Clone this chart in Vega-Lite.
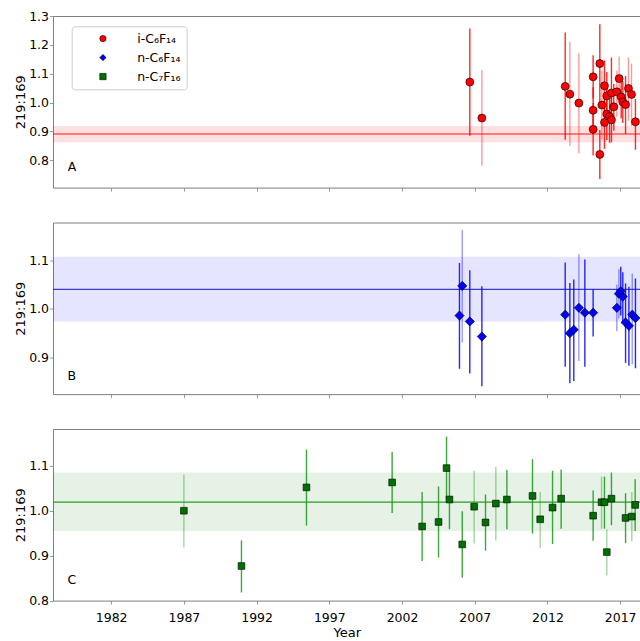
{
  "$schema": "https://vega.github.io/schema/vega-lite/v6.json",
  "padding": {"left": 14, "top": 10, "right": 0, "bottom": 0},
  "background": "white",
  "bounds": "flush",
  "spacing": 34.5,
  "config": {
    "font": "DejaVu Sans",
    "view": {"stroke": null},
    "axis": {
      "labelFont": "DejaVu Sans", "labelFontSize": 12.5, "labelColor": "black",
      "titleFont": "DejaVu Sans", "titleFontSize": 13, "titleFontWeight": "normal", "titleColor": "black",
      "domainColor": "#808080", "tickColor": "#808080", "tickSize": 3.5, "tickWidth": 0.8,
      "grid": false, "labelFlush": false, "labelOverlap": false, "domainWidth": 1
    },
    "axisY": {"labelPadding": 1, "titleX": -28.5, "titleY": 85.8, "titleBaseline": "alphabetic", "titleAngle": -90, "titleAlign": "center", "format": ".1f"}
  },
  "datasets": {
    "obs": [
      {"panel": "A", "compound": "i-C₆F₁₄", "year": 2006.66, "value": 1.071, "lo": 0.885, "hi": 1.257, "src": "a"},
      {"panel": "A", "compound": "i-C₆F₁₄", "year": 2007.49, "value": 0.946, "lo": 0.781, "hi": 1.112, "src": "b"},
      {"panel": "A", "compound": "i-C₆F₁₄", "year": 2013.22, "value": 1.056, "lo": 0.871, "hi": 1.243, "src": "a"},
      {"panel": "A", "compound": "i-C₆F₁₄", "year": 2013.54, "value": 1.029, "lo": 0.850, "hi": 1.210, "src": "b"},
      {"panel": "A", "compound": "i-C₆F₁₄", "year": 2014.16, "value": 0.998, "lo": 0.824, "hi": 1.171, "src": "b"},
      {"panel": "A", "compound": "i-C₆F₁₄", "year": 2015.14, "value": 1.089, "lo": 1.014, "hi": 1.164, "src": "a"},
      {"panel": "A", "compound": "i-C₆F₁₄", "year": 2015.14, "value": 0.973, "lo": 0.893, "hi": 1.053, "src": "a"},
      {"panel": "A", "compound": "i-C₆F₁₄", "year": 2015.14, "value": 0.907, "lo": 0.816, "hi": 0.998, "src": "a"},
      {"panel": "A", "compound": "i-C₆F₁₄", "year": 2015.60, "value": 1.135, "lo": 1.000, "hi": 1.271, "src": "a"},
      {"panel": "A", "compound": "i-C₆F₁₄", "year": 2015.60, "value": 0.820, "lo": 0.735, "hi": 0.905, "src": "a"},
      {"panel": "A", "compound": "i-C₆F₁₄", "year": 2015.74, "value": 0.991, "lo": 0.873, "hi": 1.110, "src": "b"},
      {"panel": "A", "compound": "i-C₆F₁₄", "year": 2015.92, "value": 1.058, "lo": 0.970, "hi": 1.146, "src": "a"},
      {"panel": "A", "compound": "i-C₆F₁₄", "year": 2015.92, "value": 0.931, "lo": 0.839, "hi": 1.023, "src": "a"},
      {"panel": "A", "compound": "i-C₆F₁₄", "year": 2016.08, "value": 1.023, "lo": 0.940, "hi": 1.106, "src": "a"},
      {"panel": "A", "compound": "i-C₆F₁₄", "year": 2016.08, "value": 0.960, "lo": 0.870, "hi": 1.050, "src": "a"},
      {"panel": "A", "compound": "i-C₆F₁₄", "year": 2016.27, "value": 0.951, "lo": 0.860, "hi": 1.042, "src": "a"},
      {"panel": "A", "compound": "i-C₆F₁₄", "year": 2016.40, "value": 1.033, "lo": 0.940, "hi": 1.156, "src": "a"},
      {"panel": "A", "compound": "i-C₆F₁₄", "year": 2016.40, "value": 0.940, "lo": 0.862, "hi": 1.018, "src": "a"},
      {"panel": "A", "compound": "i-C₆F₁₄", "year": 2016.56, "value": 0.985, "lo": 0.902, "hi": 1.064, "src": "a"},
      {"panel": "A", "compound": "i-C₆F₁₄", "year": 2016.77, "value": 1.037, "lo": 0.950, "hi": 1.110, "src": "b"},
      {"panel": "A", "compound": "i-C₆F₁₄", "year": 2016.93, "value": 1.083, "lo": 1.000, "hi": 1.160, "src": "b"},
      {"panel": "A", "compound": "i-C₆F₁₄", "year": 2017.07, "value": 1.019, "lo": 0.945, "hi": 1.093, "src": "a"},
      {"panel": "A", "compound": "i-C₆F₁₄", "year": 2017.18, "value": 1.002, "lo": 0.929, "hi": 1.075, "src": "a"},
      {"panel": "A", "compound": "i-C₆F₁₄", "year": 2017.37, "value": 0.993, "lo": 0.891, "hi": 1.092, "src": "a"},
      {"panel": "A", "compound": "i-C₆F₁₄", "year": 2017.57, "value": 1.049, "lo": 0.937, "hi": 1.156, "src": "b"},
      {"panel": "A", "compound": "i-C₆F₁₄", "year": 2017.78, "value": 1.028, "lo": 0.919, "hi": 1.135, "src": "b"},
      {"panel": "A", "compound": "i-C₆F₁₄", "year": 2018.05, "value": 0.933, "lo": 0.836, "hi": 1.012, "src": "a"},

      {"panel": "B", "compound": "n-C₆F₁₄", "year": 2005.95, "value": 0.986, "lo": 0.877, "hi": 1.094, "src": "a"},
      {"panel": "B", "compound": "n-C₆F₁₄", "year": 2006.14, "value": 1.047, "lo": 0.931, "hi": 1.162, "src": "b"},
      {"panel": "B", "compound": "n-C₆F₁₄", "year": 2006.66, "value": 0.974, "lo": 0.867, "hi": 1.079, "src": "a"},
      {"panel": "B", "compound": "n-C₆F₁₄", "year": 2007.49, "value": 0.943, "lo": 0.841, "hi": 1.046, "src": "a"},
      {"panel": "B", "compound": "n-C₆F₁₄", "year": 2013.22, "value": 0.988, "lo": 0.881, "hi": 1.095, "src": "a"},
      {"panel": "B", "compound": "n-C₆F₁₄", "year": 2013.54, "value": 0.950, "lo": 0.847, "hi": 1.053, "src": "a"},
      {"panel": "B", "compound": "n-C₆F₁₄", "year": 2013.81, "value": 0.957, "lo": 0.852, "hi": 1.060, "src": "a"},
      {"panel": "B", "compound": "n-C₆F₁₄", "year": 2014.16, "value": 1.002, "lo": 0.893, "hi": 1.112, "src": "b"},
      {"panel": "B", "compound": "n-C₆F₁₄", "year": 2014.57, "value": 0.992, "lo": 0.881, "hi": 1.101, "src": "a"},
      {"panel": "B", "compound": "n-C₆F₁₄", "year": 2015.14, "value": 0.992, "lo": 0.943, "hi": 1.040, "src": "a"},
      {"panel": "B", "compound": "n-C₆F₁₄", "year": 2016.77, "value": 1.002, "lo": 0.954, "hi": 1.050, "src": "b"},
      {"panel": "B", "compound": "n-C₆F₁₄", "year": 2016.91, "value": 1.031, "lo": 0.980, "hi": 1.081, "src": "b"},
      {"panel": "B", "compound": "n-C₆F₁₄", "year": 2017.04, "value": 1.036, "lo": 0.986, "hi": 1.086, "src": "a"},
      {"panel": "B", "compound": "n-C₆F₁₄", "year": 2017.18, "value": 1.025, "lo": 0.975, "hi": 1.075, "src": "a"},
      {"panel": "B", "compound": "n-C₆F₁₄", "year": 2017.37, "value": 0.972, "lo": 0.889, "hi": 1.052, "src": "a"},
      {"panel": "B", "compound": "n-C₆F₁₄", "year": 2017.60, "value": 0.965, "lo": 0.883, "hi": 1.045, "src": "a"},
      {"panel": "B", "compound": "n-C₆F₁₄", "year": 2017.83, "value": 0.988, "lo": 0.886, "hi": 1.072, "src": "b"},
      {"panel": "B", "compound": "n-C₆F₁₄", "year": 2018.05, "value": 0.981, "lo": 0.878, "hi": 1.062, "src": "a"},

      {"panel": "C", "compound": "n-C₇F₁₆", "year": 1987.00, "value": 1.000, "lo": 0.918, "hi": 1.080, "src": "b"},
      {"panel": "C", "compound": "n-C₇F₁₆", "year": 1990.96, "value": 0.877, "lo": 0.818, "hi": 0.934, "src": "a"},
      {"panel": "C", "compound": "n-C₇F₁₆", "year": 1995.43, "value": 1.052, "lo": 0.967, "hi": 1.136, "src": "a"},
      {"panel": "C", "compound": "n-C₇F₁₆", "year": 2001.32, "value": 1.063, "lo": 0.995, "hi": 1.131, "src": "a"},
      {"panel": "C", "compound": "n-C₇F₁₆", "year": 2003.38, "value": 0.965, "lo": 0.888, "hi": 1.042, "src": "a"},
      {"panel": "C", "compound": "n-C₇F₁₆", "year": 2004.51, "value": 0.975, "lo": 0.896, "hi": 1.054, "src": "a"},
      {"panel": "C", "compound": "n-C₇F₁₆", "year": 2005.06, "value": 1.095, "lo": 1.025, "hi": 1.165, "src": "a"},
      {"panel": "C", "compound": "n-C₇F₁₆", "year": 2005.26, "value": 1.025, "lo": 0.959, "hi": 1.089, "src": "a"},
      {"panel": "C", "compound": "n-C₇F₁₆", "year": 2006.14, "value": 0.925, "lo": 0.851, "hi": 0.999, "src": "a"},
      {"panel": "C", "compound": "n-C₇F₁₆", "year": 2006.96, "value": 1.009, "lo": 0.927, "hi": 1.089, "src": "b"},
      {"panel": "C", "compound": "n-C₇F₁₆", "year": 2007.74, "value": 0.974, "lo": 0.911, "hi": 1.036, "src": "a"},
      {"panel": "C", "compound": "n-C₇F₁₆", "year": 2008.45, "value": 1.016, "lo": 0.934, "hi": 1.098, "src": "b"},
      {"panel": "C", "compound": "n-C₇F₁₆", "year": 2009.21, "value": 1.025, "lo": 0.959, "hi": 1.091, "src": "a"},
      {"panel": "C", "compound": "n-C₇F₁₆", "year": 2010.97, "value": 1.033, "lo": 0.949, "hi": 1.115, "src": "a"},
      {"panel": "C", "compound": "n-C₇F₁₆", "year": 2011.50, "value": 0.981, "lo": 0.917, "hi": 1.042, "src": "b"},
      {"panel": "C", "compound": "n-C₇F₁₆", "year": 2012.35, "value": 1.007, "lo": 0.926, "hi": 1.089, "src": "a"},
      {"panel": "C", "compound": "n-C₇F₁₆", "year": 2012.94, "value": 1.027, "lo": 0.960, "hi": 1.092, "src": "a"},
      {"panel": "C", "compound": "n-C₇F₁₆", "year": 2015.14, "value": 0.989, "lo": 0.933, "hi": 1.045, "src": "a"},
      {"panel": "C", "compound": "n-C₇F₁₆", "year": 2015.72, "value": 1.019, "lo": 0.960, "hi": 1.076, "src": "b"},
      {"panel": "C", "compound": "n-C₇F₁₆", "year": 2015.92, "value": 1.019, "lo": 0.960, "hi": 1.076, "src": "a"},
      {"panel": "C", "compound": "n-C₇F₁₆", "year": 2016.08, "value": 0.908, "lo": 0.856, "hi": 0.959, "src": "b"},
      {"panel": "C", "compound": "n-C₇F₁₆", "year": 2016.40, "value": 1.027, "lo": 0.968, "hi": 1.085, "src": "a"},
      {"panel": "C", "compound": "n-C₇F₁₆", "year": 2017.37, "value": 0.984, "lo": 0.928, "hi": 1.039, "src": "a"},
      {"panel": "C", "compound": "n-C₇F₁₆", "year": 2017.80, "value": 0.987, "lo": 0.932, "hi": 1.042, "src": "b"},
      {"panel": "C", "compound": "n-C₇F₁₆", "year": 2018.03, "value": 1.013, "lo": 0.955, "hi": 1.070, "src": "a"}
    ],
    "bands": [
      {"panel": "A", "mean": 0.891, "lo": 0.862, "hi": 0.919},
      {"panel": "B", "mean": 1.040, "lo": 0.974, "hi": 1.107},
      {"panel": "C", "mean": 1.019, "lo": 0.955, "hi": 1.085}
    ],
    "letters": [
      {"panel": "A", "year": 1979.3, "value": 0.775, "label": "A"},
      {"panel": "B", "year": 1979.3, "value": 0.862, "label": "B"},
      {"panel": "C", "year": 1979.3, "value": 0.845, "label": "C"}
    ]
  },
  "resolve": {"legend": {"color": "independent", "shape": "independent"}},
  "vconcat": [
    {
      "width": 587.7, "height": 171.6,
      "resolve": {"axis": {"x": "independent"}},
      "layer": [
        {"data": {"name": "bands"}, "transform": [{"filter": "datum.panel == 'A'"}],
         "mark": {"type": "rect", "color": "#ff0000", "opacity": 0.12},
         "encoding": {"y": {"field": "lo", "type": "quantitative", "scale": {"domain": [0.705, 1.3], "nice": false, "zero": false}, "axis": {"title": "219:169", "values": [0.8, 0.9, 1.0, 1.1, 1.2, 1.3]}}, "y2": {"field": "hi"}}},
        {"data": {"name": "bands"}, "transform": [{"filter": "datum.panel == 'A'"}],
         "mark": {"type": "rule", "color": "#ff0000", "opacity": 0.45, "strokeWidth": 2},
         "encoding": {"y": {"field": "mean", "type": "quantitative", "scale": {"domain": [0.705, 1.3], "nice": false, "zero": false}, "axis": {"title": "219:169", "values": [0.8, 0.9, 1.0, 1.1, 1.2, 1.3]}}}},
        {"data": {"name": "obs"}, "transform": [{"filter": "datum.panel == 'A'"}],
         "mark": {"type": "rule", "color": "#ff0000", "strokeWidth": 1.4},
         "encoding": {
           "x": {"field": "year", "type": "quantitative", "scale": {"domain": [1978, 2018.41], "nice": false, "zero": false}, "axis": {"orient": "top", "labels": false, "ticks": false, "title": null}},
           "y": {"field": "lo", "type": "quantitative", "scale": {"domain": [0.705, 1.3], "nice": false, "zero": false}, "axis": {"title": "219:169", "values": [0.8, 0.9, 1.0, 1.1, 1.2, 1.3]}},
           "y2": {"field": "hi"},
           "opacity": {"field": "src", "type": "nominal", "scale": {"domain": ["a", "b"], "range": [0.85, 0.4]}, "legend": null}
         }},
        {"data": {"name": "obs"}, "transform": [{"filter": "datum.panel == 'A'"}],
         "mark": {"type": "point", "filled": true, "opacity": 1, "stroke": "black", "strokeWidth": 0.6, "size": 64},
         "encoding": {
           "x": {"field": "year", "type": "quantitative", "scale": {"domain": [1978, 2018.41], "nice": false, "zero": false}, "axis": {"orient": "bottom", "values": [1982, 1987, 1992, 1997, 2002, 2007, 2012, 2017], "labels": false, "title": null}},
           "y": {"field": "value", "type": "quantitative", "scale": {"domain": [0.705, 1.3], "nice": false, "zero": false}, "axis": {"title": "219:169", "values": [0.8, 0.9, 1.0, 1.1, 1.2, 1.3]}},
           "color": {"field": "compound", "type": "nominal", "scale": {"domain": ["i-C₆F₁₄", "n-C₆F₁₄", "n-C₇F₁₆"], "range": ["#ff0000", "#0000ff", "#007000"]},
             "legend": {"title": null, "orient": "none", "legendX": 18.7, "legendY": 10.3, "padding": 6, "strokeColor": "#cccccc", "fillColor": "white", "cornerRadius": 3, "labelFont": "DejaVu Sans", "labelFontSize": 12.5, "labelColor": "black", "symbolSize": 40, "symbolStrokeColor": "black", "symbolStrokeWidth": 0.6, "rowPadding": 6, "labelOffset": 28, "symbolOffset": 19}},
           "shape": {"field": "compound", "type": "nominal", "scale": {"domain": ["i-C₆F₁₄", "n-C₆F₁₄", "n-C₇F₁₆"], "range": ["circle", "diamond", "square"]},
             "legend": {"title": null, "orient": "none", "legendX": 18.7, "legendY": 10.3, "padding": 6, "strokeColor": "#cccccc", "fillColor": "white", "cornerRadius": 3, "labelFont": "DejaVu Sans", "labelFontSize": 12.5, "labelColor": "black", "symbolSize": 40, "symbolStrokeColor": "black", "symbolStrokeWidth": 0.6, "rowPadding": 6, "labelOffset": 28, "symbolOffset": 19}}
         }},
        {"data": {"name": "letters"}, "transform": [{"filter": "datum.panel == 'A'"}],
         "mark": {"type": "text", "font": "DejaVu Sans", "fontSize": 12.5, "align": "center", "baseline": "middle", "color": "black"},
         "encoding": {
           "x": {"field": "year", "type": "quantitative", "scale": {"domain": [1978, 2018.41], "nice": false, "zero": false}, "axis": null},
           "y": {"field": "value", "type": "quantitative", "scale": {"domain": [0.705, 1.3], "nice": false, "zero": false}, "axis": {"title": "219:169", "values": [0.8, 0.9, 1.0, 1.1, 1.2, 1.3]}},
           "text": {"field": "label"}
         }}
      ]
    },
    {
      "width": 587.7, "height": 171.6,
      "resolve": {"axis": {"x": "independent"}},
      "layer": [
        {"data": {"name": "bands"}, "transform": [{"filter": "datum.panel == 'B'"}],
         "mark": {"type": "rect", "color": "#0000ff", "opacity": 0.1},
         "encoding": {"y": {"field": "lo", "type": "quantitative", "scale": {"domain": [0.825, 1.177], "nice": false, "zero": false}, "axis": {"title": "219:169", "values": [0.9, 1.0, 1.1]}}, "y2": {"field": "hi"}}},
        {"data": {"name": "bands"}, "transform": [{"filter": "datum.panel == 'B'"}],
         "mark": {"type": "rule", "color": "#2020c0", "opacity": 0.85, "strokeWidth": 1.2},
         "encoding": {"y": {"field": "mean", "type": "quantitative", "scale": {"domain": [0.825, 1.177], "nice": false, "zero": false}, "axis": {"title": "219:169", "values": [0.9, 1.0, 1.1]}}}},
        {"data": {"name": "obs"}, "transform": [{"filter": "datum.panel == 'B'"}],
         "mark": {"type": "rule", "color": "#0000ff", "strokeWidth": 1.4},
         "encoding": {
           "x": {"field": "year", "type": "quantitative", "scale": {"domain": [1978, 2018.41], "nice": false, "zero": false}, "axis": {"orient": "top", "labels": false, "ticks": false, "title": null}},
           "y": {"field": "lo", "type": "quantitative", "scale": {"domain": [0.825, 1.177], "nice": false, "zero": false}, "axis": {"title": "219:169", "values": [0.9, 1.0, 1.1]}},
           "y2": {"field": "hi"},
           "opacity": {"field": "src", "type": "nominal", "scale": {"domain": ["a", "b"], "range": [0.75, 0.4]}, "legend": null}
         }},
        {"data": {"name": "obs"}, "transform": [{"filter": "datum.panel == 'B'"}],
         "mark": {"type": "point", "filled": true, "opacity": 1, "shape": "diamond", "color": "#0000ff", "stroke": "black", "strokeWidth": 0.6, "size": 85},
         "encoding": {
           "x": {"field": "year", "type": "quantitative", "scale": {"domain": [1978, 2018.41], "nice": false, "zero": false}, "axis": {"orient": "bottom", "values": [1982, 1987, 1992, 1997, 2002, 2007, 2012, 2017], "labels": false, "title": null}},
           "y": {"field": "value", "type": "quantitative", "scale": {"domain": [0.825, 1.177], "nice": false, "zero": false}, "axis": {"title": "219:169", "values": [0.9, 1.0, 1.1]}}
         }},
        {"data": {"name": "letters"}, "transform": [{"filter": "datum.panel == 'B'"}],
         "mark": {"type": "text", "font": "DejaVu Sans", "fontSize": 12.5, "align": "center", "baseline": "middle", "color": "black"},
         "encoding": {
           "x": {"field": "year", "type": "quantitative", "scale": {"domain": [1978, 2018.41], "nice": false, "zero": false}, "axis": null},
           "y": {"field": "value", "type": "quantitative", "scale": {"domain": [0.825, 1.177], "nice": false, "zero": false}, "axis": {"title": "219:169", "values": [0.9, 1.0, 1.1]}},
           "text": {"field": "label"}
         }}
      ]
    },
    {
      "width": 587.7, "height": 171.6,
      "resolve": {"axis": {"x": "independent"}},
      "layer": [
        {"data": {"name": "bands"}, "transform": [{"filter": "datum.panel == 'C'"}],
         "mark": {"type": "rect", "color": "#008000", "opacity": 0.1},
         "encoding": {"y": {"field": "lo", "type": "quantitative", "scale": {"domain": [0.8, 1.182], "nice": false, "zero": false}, "axis": {"title": "219:169", "values": [0.8, 0.9, 1.0, 1.1]}}, "y2": {"field": "hi"}}},
        {"data": {"name": "bands"}, "transform": [{"filter": "datum.panel == 'C'"}],
         "mark": {"type": "rule", "color": "#22a022", "opacity": 1, "strokeWidth": 1.2},
         "encoding": {"y": {"field": "mean", "type": "quantitative", "scale": {"domain": [0.8, 1.182], "nice": false, "zero": false}, "axis": {"title": "219:169", "values": [0.8, 0.9, 1.0, 1.1]}}}},
        {"data": {"name": "obs"}, "transform": [{"filter": "datum.panel == 'C'"}],
         "mark": {"type": "rule", "color": "#1a961a", "strokeWidth": 1.4},
         "encoding": {
           "x": {"field": "year", "type": "quantitative", "scale": {"domain": [1978, 2018.41], "nice": false, "zero": false}, "axis": {"orient": "top", "labels": false, "ticks": false, "title": null}},
           "y": {"field": "lo", "type": "quantitative", "scale": {"domain": [0.8, 1.182], "nice": false, "zero": false}, "axis": {"title": "219:169", "values": [0.8, 0.9, 1.0, 1.1]}},
           "y2": {"field": "hi"},
           "opacity": {"field": "src", "type": "nominal", "scale": {"domain": ["a", "b"], "range": [0.95, 0.5]}, "legend": null}
         }},
        {"data": {"name": "obs"}, "transform": [{"filter": "datum.panel == 'C'"}],
         "mark": {"type": "point", "filled": true, "opacity": 1, "shape": "square", "color": "#007000", "stroke": "black", "strokeWidth": 0.6, "size": 45},
         "encoding": {
           "x": {"field": "year", "type": "quantitative", "scale": {"domain": [1978, 2018.41], "nice": false, "zero": false}, "axis": {"orient": "bottom", "values": [1982, 1987, 1992, 1997, 2002, 2007, 2012, 2017], "format": "d", "labelPadding": 7, "title": "Year", "titlePadding": 3}},
           "y": {"field": "value", "type": "quantitative", "scale": {"domain": [0.8, 1.182], "nice": false, "zero": false}, "axis": {"title": "219:169", "values": [0.8, 0.9, 1.0, 1.1]}}
         }},
        {"data": {"name": "letters"}, "transform": [{"filter": "datum.panel == 'C'"}],
         "mark": {"type": "text", "font": "DejaVu Sans", "fontSize": 12.5, "align": "center", "baseline": "middle", "color": "black"},
         "encoding": {
           "x": {"field": "year", "type": "quantitative", "scale": {"domain": [1978, 2018.41], "nice": false, "zero": false}, "axis": null},
           "y": {"field": "value", "type": "quantitative", "scale": {"domain": [0.8, 1.182], "nice": false, "zero": false}, "axis": {"title": "219:169", "values": [0.8, 0.9, 1.0, 1.1]}},
           "text": {"field": "label"}
         }}
      ]
    }
  ]
}
